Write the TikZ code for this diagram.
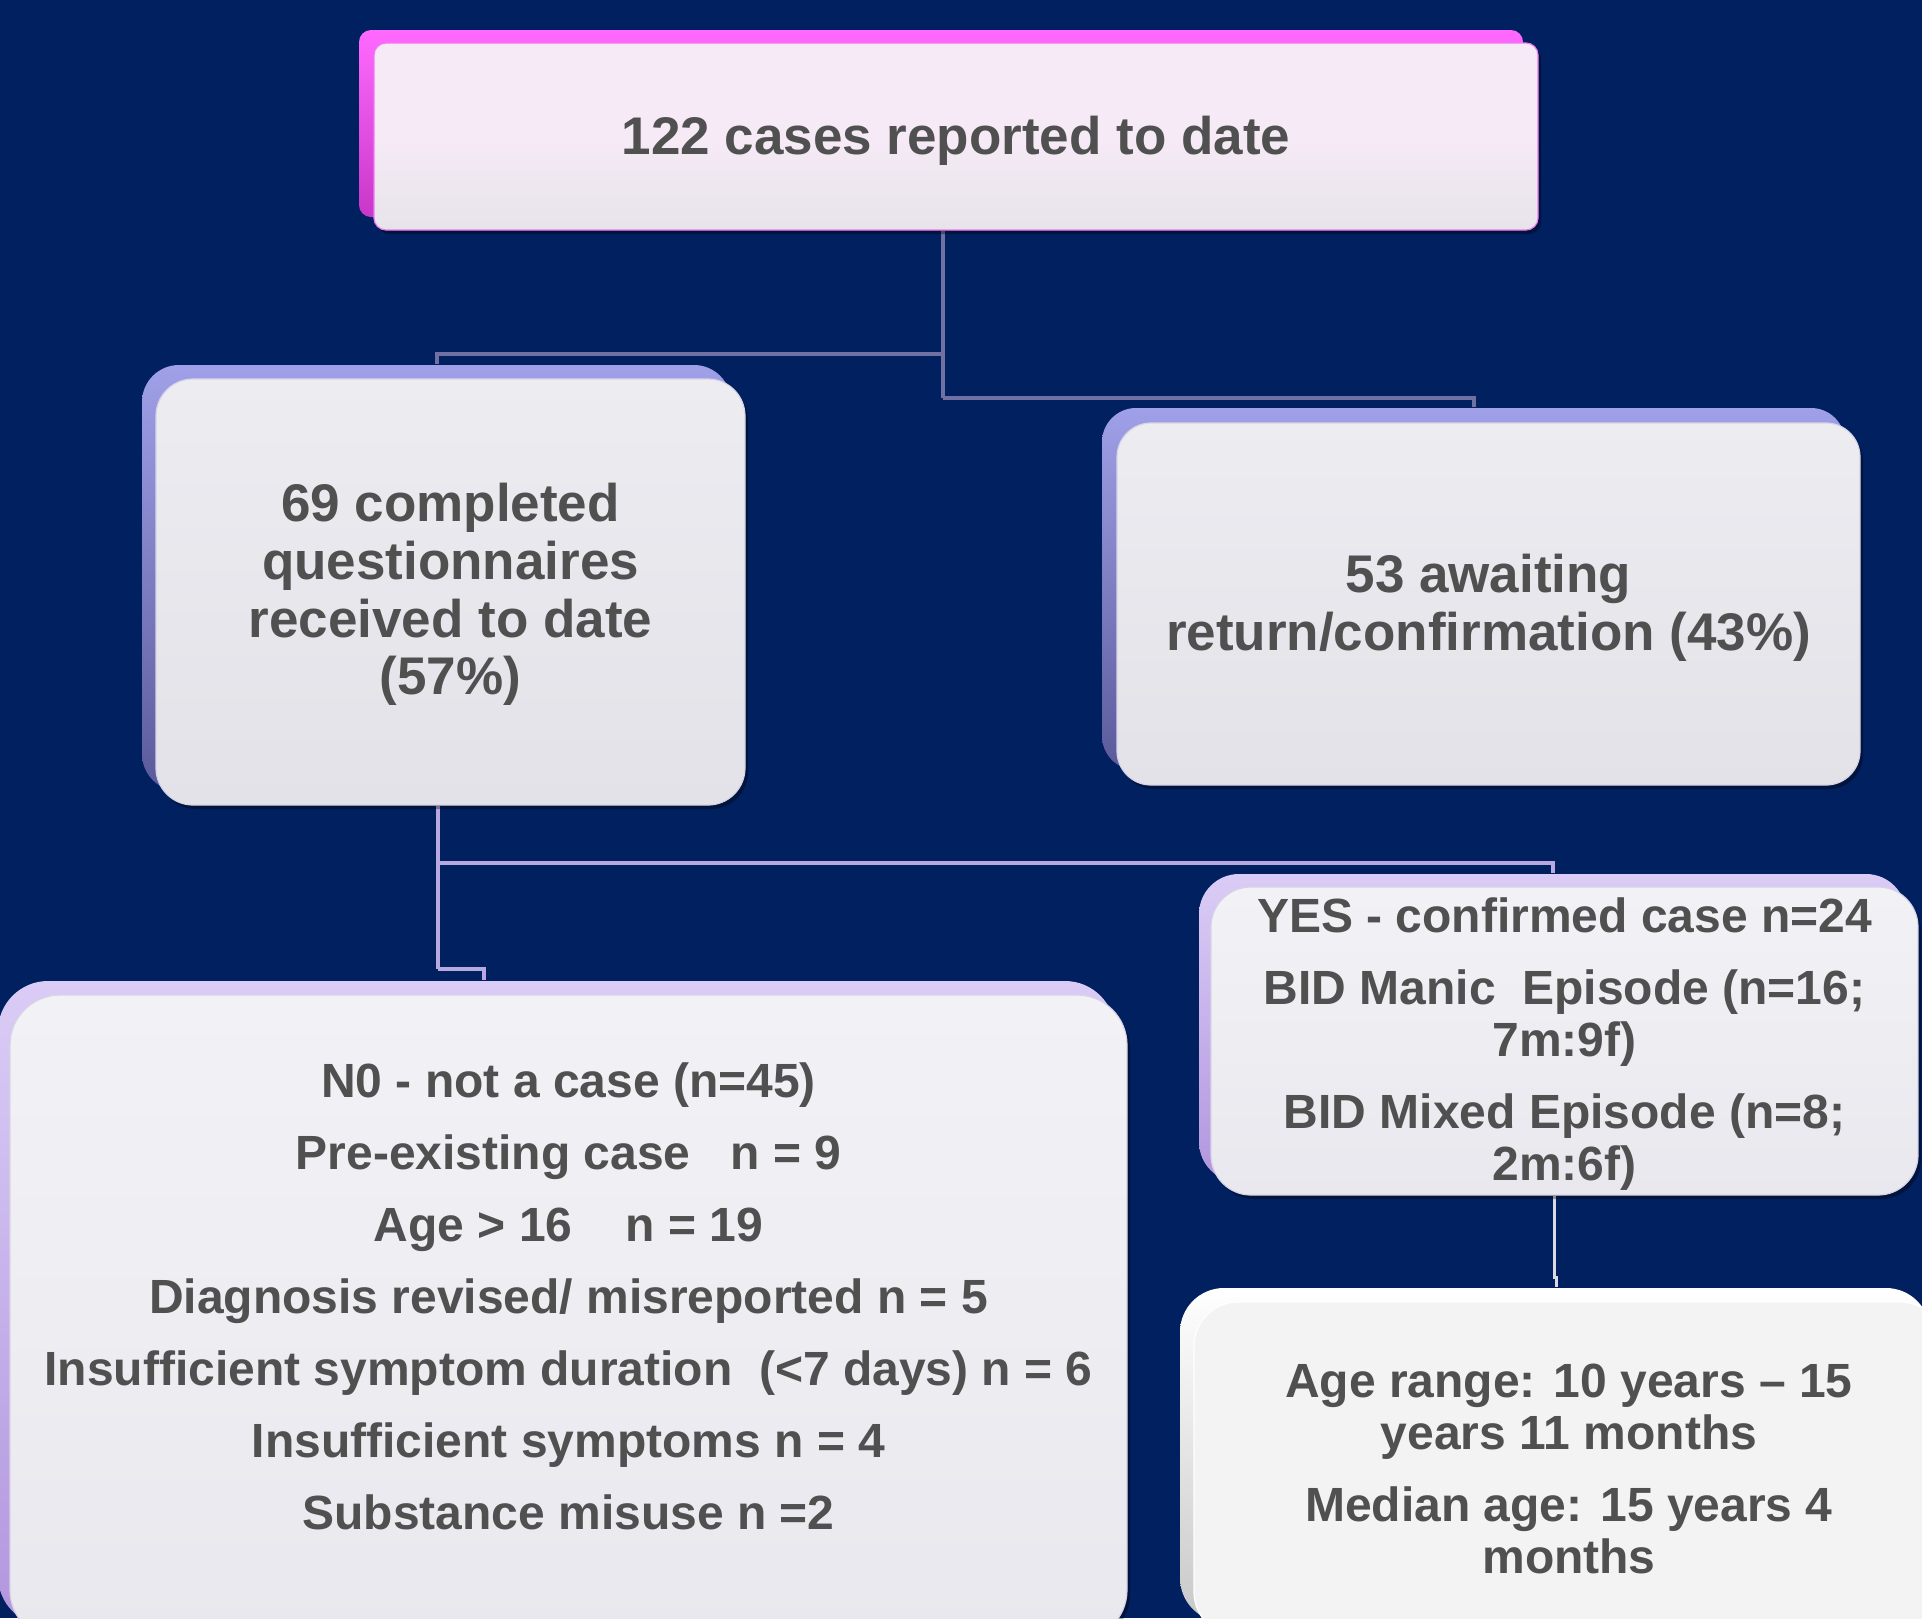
\documentclass[tikz,border=0pt]{standalone}
\usepackage{fontspec}
\setmainfont{Liberation Sans}
\usetikzlibrary{calc,shadows}
\definecolor{bgblue}{RGB}{0,32,96}
\definecolor{txtgray}{RGB}{80,80,80}
\definecolor{pinkfront}{RGB}{246,234,246}
\definecolor{pinkbottom}{RGB}{230,228,234}
\definecolor{pinkedge}{RGB}{240,120,240}
\definecolor{magtop}{RGB}{255,105,255}
\definecolor{magbot}{RGB}{200,55,200}
\definecolor{grayfront}{RGB}{236,236,241}
\definecolor{graybottom}{RGB}{226,226,232}
\definecolor{bluetop}{RGB}{160,160,232}
\definecolor{bluebot}{RGB}{90,90,155}
\definecolor{lavtop}{RGB}{218,204,246}
\definecolor{lavbot}{RGB}{178,150,222}
\definecolor{lightfront}{RGB}{242,242,246}
\definecolor{lightbottom}{RGB}{232,232,238}
\definecolor{agefront}{RGB}{243,243,243}
\definecolor{whitetop}{RGB}{255,255,255}
\definecolor{whitebot}{RGB}{200,200,200}
\definecolor{edgegray}{RGB}{215,212,230}
\definecolor{conna}{RGB}{112,112,162}
\definecolor{connb}{RGB}{184,170,224}
\definecolor{connc}{RGB}{218,218,228}
\pgfdeclarelayer{bg}
\pgfsetlayers{bg,main}
\newcommand{\txtup}[1]{\rule[-#1]{0pt}{#1}}
\newcommand{\txtdown}[1]{\rule{0pt}{#1}}
\tikzset{
  box/.style={rectangle, draw=edgegray, line width=0.6pt, text=txtgray,
    align=center, inner sep=1pt},
  bigfont/.style={font=\fontsize{26.5pt}{28.8pt}\selectfont\bfseries},
  smallfont/.style={font=\fontsize{24pt}{26pt}\selectfont\bfseries},
  listfont/.style={font=\fontsize{24pt}{36pt}\selectfont\bfseries},
  darkshadow/.style={general shadow={shadow xshift=1.5pt, shadow yshift=-2pt,
    fill=black, opacity=0.35, draw=none}},
  backlayer/.style n args={4}{general shadow={shadow xshift=#1, shadow yshift=#2,
    top color=#3, bottom color=#4, draw=none}},
  conn1/.style={draw=conna, line width=2.2pt},
  conn2/.style={draw=connb, line width=2pt},
  conn3/.style={draw=connc, line width=1.5pt},
}
\begin{document}
\begin{tikzpicture}[x=0.5pt,y=-0.5pt]
\useasboundingbox (0,0) rectangle (1922,1618);
\begin{pgfonlayer}{bg}
\fill[bgblue] (0,0) rectangle (1922,1618);
\end{pgfonlayer}

% top box
\node[box, bigfont, draw=pinkedge, rounded corners=6pt,
  minimum width=582pt, minimum height=93.5pt,
  top color=pinkfront, bottom color=pinkbottom, middle color=pinkfront,
  darkshadow, backlayer={-7.5pt}{6.5pt}{magtop}{magbot}]
  (top) at (956,136.5) {\txtdown{23pt}122 cases reported to date};

% second level
\node[box, bigfont, rounded corners=18.5pt,
  minimum width=294.5pt, minimum height=213pt,
  top color=grayfront, bottom color=graybottom,
  darkshadow, backlayer={-7pt}{7pt}{bluetop}{bluebot}]
  (left) at (450.5,592) {\txtdown{21.8pt}69 completed\\questionnaires\\received to date\\(57\%)};

\node[box, bigfont, rounded corners=17pt,
  minimum width=371.5pt, minimum height=181pt,
  top color=grayfront, bottom color=graybottom,
  darkshadow, backlayer={-7.5pt}{7.5pt}{bluetop}{bluebot}]
  (right) at (1488.5,604) {\txtdown{23pt}53 awaiting\\return/confirmation (43\%)};

% third level
\node[box, listfont, rounded corners=25pt,
  minimum width=558.5pt, minimum height=322.5pt,
  top color=lightfront, bottom color=lightbottom,
  darkshadow, backlayer={-6pt}{7pt}{lavtop}{lavbot}]
  (no) at (568.5,1317.5) {N0 - not a case (n=45)\\Pre-existing case\ \ \ n = 9\\Age > 16\ \ \ \ n = 19\\Diagnosis revised/ misreported n = 5\\Insufficient symptom duration\ \ (<7 days) n = 6\\Insufficient symptoms n = 4\\Substance misuse n =2\txtup{21.5pt}};

\node[box, smallfont, rounded corners=20pt,
  minimum width=353.5pt, minimum height=154pt,
  top color=lightfront, bottom color=lightbottom,
  darkshadow, backlayer={-6pt}{6.5pt}{lavtop}{lavbot}]
  (yes) at (1564.5,1041) {\txtdown{20.5pt}YES - confirmed case n=24\\[10pt]BID Manic\ \ Episode (n=16;\\7m:9f)\\[10pt]BID Mixed Episode (n=8;\\2m:6f)};

\node[box, smallfont, draw=white, rounded corners=22pt,
  minimum width=375pt, minimum height=167pt,
  fill=agefront,
  darkshadow, backlayer={-7pt}{7pt}{whitetop}{whitebot}]
  (age) at (1569,1469) {Age range: 10 years – 15\\years 11 months\\[10pt]Median age: 15 years 4\\months};

% connectors
\begin{pgfonlayer}{bg}
\coordinate (a1) at ($(top.south)+(-13,0)$);
\coordinate (j1) at (943,354);
\coordinate (j2) at (943,398);
\coordinate (b1) at ($(left.north)+(-13.5,-14)$);
\coordinate (b2) at ($(right.north)+(-14.5,-15)$);
\draw[conn1] (a1) -- (j2);
\draw[conn1] (j1) -| (b1);
\draw[conn1] (j2) -| (b2);

\coordinate (a2) at ($(left.south)+(-12.5,0)$);
\coordinate (j3) at (438,863);
\coordinate (j4) at (438,969);
\coordinate (b3) at ($(yes.north)+(-11.5,-13)$);
\coordinate (b4) at ($(no.north)+(-84.5,-14)$);
\draw[conn2] (a2) -- (j4);
\draw[conn2] (j3) -| (b3);
\draw[conn2] (j4) -| (b4);

\coordinate (a3) at ($(yes.south)+(-10.5,0)$);
\coordinate (j5) at (1554,1277);
\coordinate (b5) at ($(age.north)+(-13,-14)$);
\draw[conn3] (a3) -- (j5) -| (b5);
\end{pgfonlayer}
\end{tikzpicture}
\end{document}
